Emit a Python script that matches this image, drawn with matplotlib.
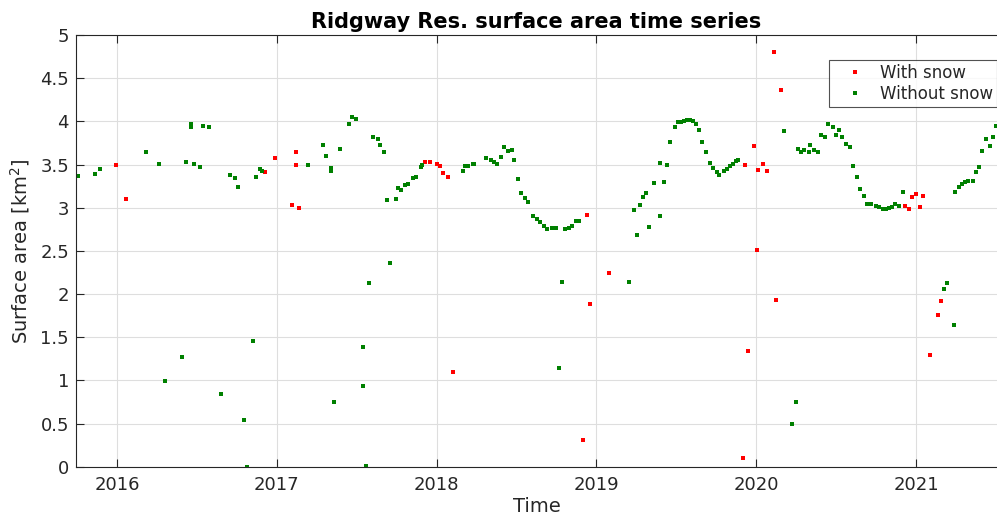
import matplotlib
matplotlib.use("Agg")
import matplotlib.pyplot as plt

# ---- data (decimal years, km^2) ----
snow_dates = [2015.992, 2016.054, 2016.924, 2016.987, 2017.095, 2017.122, 2017.122, 2017.141,
              2017.930, 2017.961, 2018.003, 2018.019, 2018.040, 2018.073, 2018.101,
              2018.917, 2018.940, 2018.962, 2019.079,
              2019.920, 2019.931, 2019.947, 2019.985, 2020.004, 2020.012, 2020.040, 2020.066,
              2020.112, 2020.122, 2020.154,
              2020.933, 2020.958, 2020.975, 2021.000, 2021.027, 2021.046,
              2021.086, 2021.140, 2021.153]
snow_area = [3.49, 3.10, 3.41, 3.57, 3.03, 3.65, 3.50, 3.00,
             3.53, 3.53, 3.51, 3.48, 3.40, 3.36, 1.10,
             0.31, 2.92, 1.89, 2.24,
             0.10, 3.49, 1.34, 3.72, 2.51, 3.44, 3.51, 3.42,
             4.80, 1.93, 4.36,
             3.02, 2.98, 3.12, 3.16, 3.01, 3.14,
             1.29, 1.76, 1.92]

nosnow_dates = [2015.755, 2015.863, 2015.892, 2016.185, 2016.264, 2016.302, 2016.410, 2016.431,
                2016.466, 2016.466, 2016.484, 2016.520, 2016.541, 2016.576, 2016.650, 2016.705,
                2016.741, 2016.760, 2016.793, 2016.812, 2016.850, 2016.868, 2016.895, 2016.906,
                2017.197, 2017.289, 2017.308, 2017.341, 2017.341, 2017.359, 2017.397, 2017.451,
                2017.472, 2017.493, 2017.538, 2017.538, 2017.561, 2017.580, 2017.603, 2017.634,
                2017.649, 2017.672, 2017.690, 2017.711, 2017.744, 2017.757, 2017.780, 2017.800,
                2017.819, 2017.853, 2017.869, 2017.902, 2017.908,
                2018.163, 2018.180, 2018.197, 2018.230, 2018.236, 2018.311, 2018.342, 2018.359,
                2018.375, 2018.402, 2018.419, 2018.446, 2018.471, 2018.485, 2018.512, 2018.531,
                2018.554, 2018.573, 2018.606, 2018.628, 2018.648, 2018.669, 2018.690, 2018.721,
                2018.746, 2018.765, 2018.786, 2018.806, 2018.831, 2018.848, 2018.873, 2018.894,
                2019.204, 2019.234, 2019.253, 2019.274, 2019.289, 2019.310, 2019.331, 2019.358,
                2019.396, 2019.400, 2019.422, 2019.441, 2019.463, 2019.490, 2019.510, 2019.531,
                2019.548, 2019.569, 2019.584, 2019.605, 2019.620, 2019.643, 2019.660, 2019.683,
                2019.710, 2019.729, 2019.752, 2019.769, 2019.800, 2019.819, 2019.835, 2019.854,
                2019.873, 2019.885,
                2020.174, 2020.222, 2020.249, 2020.262, 2020.277, 2020.298, 2020.327, 2020.339,
                2020.364, 2020.389, 2020.408, 2020.429, 2020.450, 2020.477, 2020.498, 2020.518,
                2020.539, 2020.560, 2020.585, 2020.608, 2020.629, 2020.649, 2020.673, 2020.694,
                2020.715, 2020.748, 2020.769, 2020.790, 2020.811, 2020.831, 2020.852, 2020.869,
                2020.894, 2020.917,
                2021.174, 2021.195, 2021.236, 2021.246, 2021.267, 2021.285, 2021.306, 2021.327,
                2021.356, 2021.375, 2021.396, 2021.413, 2021.438, 2021.465, 2021.479, 2021.500]
nosnow_area = [3.37, 3.39, 3.45, 3.65, 3.51, 0.99, 1.27, 3.53,
               3.97, 3.93, 3.51, 3.47, 3.95, 3.94, 0.84, 3.38,
               3.34, 3.24, 0.54, 0.00, 1.46, 3.35, 3.45, 3.42,
               3.50, 3.73, 3.60, 3.46, 3.43, 0.75, 3.68, 3.97,
               4.05, 4.03, 1.39, 0.93, 0.01, 2.13, 3.82, 3.79,
               3.73, 3.65, 3.09, 2.36, 3.10, 3.23, 3.20, 3.26,
               3.28, 3.34, 3.35, 3.47, 3.49,
               3.43, 3.48, 3.48, 3.51, 3.51, 3.57, 3.55, 3.53,
               3.51, 3.59, 3.70, 3.66, 3.67, 3.55, 3.33, 3.17,
               3.11, 3.06, 2.90, 2.87, 2.83, 2.79, 2.75, 2.76,
               2.76, 1.14, 2.14, 2.75, 2.77, 2.79, 2.85, 2.84,
               2.14, 2.97, 2.68, 3.03, 3.12, 3.17, 2.78, 3.29,
               3.52, 2.90, 3.30, 3.50, 3.76, 3.93, 3.99, 3.99,
               4.00, 4.01, 4.01, 4.00, 3.97, 3.90, 3.76, 3.64,
               3.52, 3.46, 3.41, 3.38, 3.42, 3.45, 3.48, 3.51,
               3.54, 3.55,
               3.89, 0.50, 0.75, 3.68, 3.65, 3.67, 3.64, 3.73,
               3.67, 3.64, 3.84, 3.82, 3.97, 3.94, 3.84, 3.90,
               3.82, 3.74, 3.70, 3.48, 3.36, 3.22, 3.13, 3.04,
               3.04, 3.02, 3.01, 2.99, 2.99, 3.00, 3.01, 3.04,
               3.02, 3.18,
               2.06, 2.13, 1.64, 3.18, 3.24, 3.28, 3.30, 3.31,
               3.31, 3.41, 3.47, 3.66, 3.80, 3.71, 3.82, 3.95]

year_ticks = [2016, 2017, 2018, 2019, 2020, 2021]
year_labels = ["2016", "2017", "2018", "2019", "2020", "2021"]
y_ticks = [0, 0.5, 1, 1.5, 2, 2.5, 3, 3.5, 4, 4.5, 5]
y_labels = ["0", "0.5", "1", "1.5", "2", "2.5", "3", "3.5", "4", "4.5", "5"]

# ---- figure ----
plt.rcParams['font.family'] = ['DejaVu Sans']
dark = '#262626'
fig = plt.figure(figsize=(9.97, 5.21), dpi=100)
ax = fig.add_axes([76/997, 1 - 466.7/521, 1 - 76/997, (466.7 - 35)/521])

ax.plot(snow_dates, snow_area, linestyle='none', marker='s', markersize=3,
        color='#ff0000', markeredgewidth=0, label='With snow')
ax.plot(nosnow_dates, nosnow_area, linestyle='none', marker='s', markersize=3,
        color='#008000', markeredgewidth=0, label='Without snow')

ax.set_xlim(2015.744, 2021.506)
ax.set_ylim(0, 5)
ax.set_xticks(year_ticks)
ax.set_xticklabels(year_labels)
ax.set_yticks(y_ticks)
ax.set_yticklabels(y_labels)

ax.grid(True, color='#dedede', linewidth=0.8)
ax.set_axisbelow(True)
ax.tick_params(direction='in', length=6, width=0.8, colors=dark, labelsize=13,
               top=True, right=False, pad=5)
ax.tick_params(axis='x', pad=7)
for s in ['left', 'bottom', 'top']:
    ax.spines[s].set_color(dark)
    ax.spines[s].set_linewidth(0.8)
ax.spines['right'].set_visible(False)

ax.set_title('Ridgway Res. surface area time series', fontsize=15,
             fontweight='bold', color='black', pad=5)
ax.set_xlabel('Time', fontsize=14, color=dark, labelpad=2)
ax.set_ylabel('Surface area [km$^2$]', fontsize=14, color=dark, labelpad=6)

leg = ax.legend(loc='upper left', bbox_to_anchor=((829 - 76) / 921, (466.7 - 60) / 431.7),
                borderaxespad=0, fontsize=12, frameon=True, fancybox=False,
                handlelength=2.6, handletextpad=0.2, labelspacing=0.15,
                borderpad=0.25, markerscale=1.0)
leg.get_frame().set_edgecolor(dark)
leg.get_frame().set_linewidth(0.8)
for t in leg.get_texts():
    t.set_color(dark)

fig.savefig('out.png', dpi=100)
